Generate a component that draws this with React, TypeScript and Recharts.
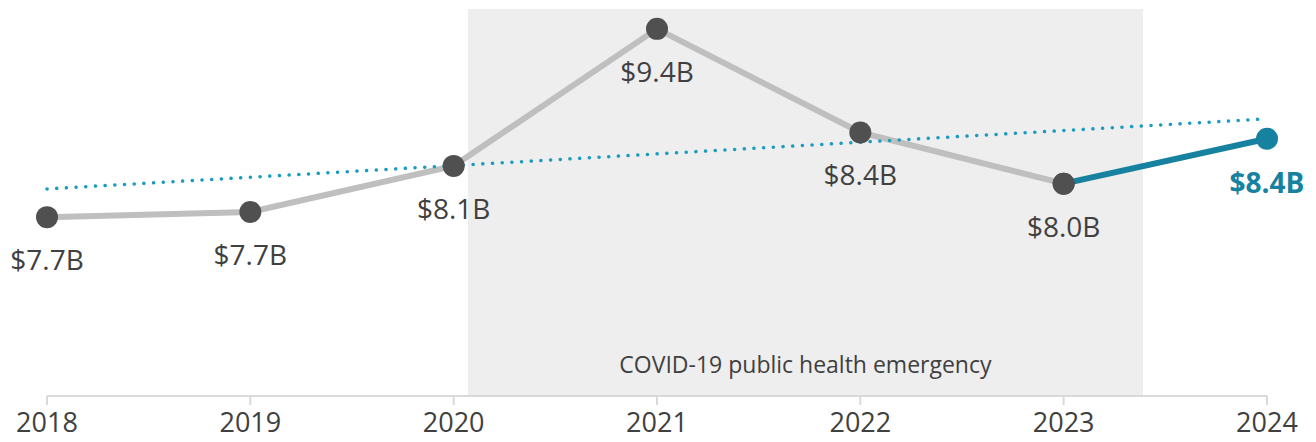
import React from 'react';
import {
  LineChart,
  Line,
  XAxis,
  YAxis,
  ReferenceArea,
  LabelList,
} from 'recharts';

const years = [2018, 2019, 2020, 2021, 2022, 2023, 2024];
const spending = [7.61, 7.66, 8.1, 9.41, 8.42, 7.93, 8.36];
const valueLabels = ['$7.7B', '$7.7B', '$8.1B', '$9.4B', '$8.4B', '$8.0B', '$8.4B'];
// trend line endpoints (2018 and 2024)
const trendStart = 7.88;
const trendEnd = 8.55;
// COVID-19 public health emergency span
const covidStart = 2020.07;
const covidEnd = 2023.39;

const FONT = '"Open Sans", "Noto Sans", sans-serif';
const TEXT = '#404040';
const GRAY_LINE = '#bfbfbf';
const DOT = '#505050';
const TEAL = '#16829f';
const TREND = '#1a9bc0';

const lastIdx = years.length - 1;
const lastYear = years[lastIdx];
const chartData = years.map((year, i) => ({
  year,
  past: i < lastIdx ? spending[i] : null,
  recent: i >= lastIdx - 1 ? spending[i] : null,
  trend: i === 0 ? trendStart : i === lastIdx ? trendEnd : null,
}));

const labelFor = (year: number) => valueLabels[years.indexOf(year)];

const PastLabel = (props: any) => {
  const { x, y, value } = props;
  if (value === lastYear || y == null || isNaN(y)) return null;
  return (
    <text x={x} y={y + 53} textAnchor="middle" fill={TEXT} fontSize={28} fontFamily={FONT}>
      {labelFor(value)}
    </text>
  );
};

const RecentLabel = (props: any) => {
  const { x, y, value } = props;
  if (value !== lastYear || y == null) return null;
  return (
    <text x={x} y={y + 54} textAnchor="middle" fill={TEAL} fontSize={28} fontWeight={700} fontFamily={FONT}>
      {labelFor(value)}
    </text>
  );
};

const RecentDot = (props: any) => {
  const { cx, cy, payload } = props;
  if (cy == null) return null;
  const fill = payload.year === lastYear ? TEAL : DOT;
  return <circle key={payload.year} cx={cx} cy={cy} r={11} fill={fill} />;
};

export default function App() {
  return (
    <div style={{ position: 'absolute', left: 0, top: 0, background: '#fff' }}>
      <LineChart
        width={1316}
        height={442}
        data={chartData}
        margin={{ top: 9, right: 49, bottom: 6, left: 47 }}
      >
        <ReferenceArea
          x1={covidStart}
          x2={covidEnd}
          y1={5.9}
          y2={9.6}
          fill="#eeeeee"
          fillOpacity={1}
          stroke="none"
          label={{
            value: 'COVID-19 public health emergency',
            position: 'insideBottom',
            offset: 23,
            fill: TEXT,
            fontSize: 23,
            fontFamily: FONT,
          }}
        />
        <XAxis
          type="number"
          dataKey="year"
          domain={[2018, 2024]}
          ticks={years}
          interval={0}
          height={40}
          stroke="#d9d9d9"
          strokeWidth={2}
          tickSize={9}
          tickMargin={8}
          tick={{ fill: TEXT, fontSize: 27, fontFamily: FONT }}
        />
        <YAxis hide domain={[5.9, 9.6]} />
        <Line
          dataKey="past"
          stroke={GRAY_LINE}
          strokeWidth={6}
          dot={{ r: 11, fill: DOT, stroke: 'none' }}
          activeDot={false}
          isAnimationActive={false}
        >
          <LabelList dataKey="year" content={PastLabel} />
        </Line>
        <Line
          dataKey="recent"
          stroke={TEAL}
          strokeWidth={6}
          dot={RecentDot}
          activeDot={false}
          isAnimationActive={false}
        >
          <LabelList dataKey="year" content={RecentLabel} />
        </Line>
        <Line
          dataKey="trend"
          connectNulls
          stroke={TREND}
          strokeWidth={3.5}
          strokeDasharray="0.1 9.6"
          strokeLinecap="round"
          dot={false}
          activeDot={false}
          isAnimationActive={false}
        />
      </LineChart>
    </div>
  );
}
